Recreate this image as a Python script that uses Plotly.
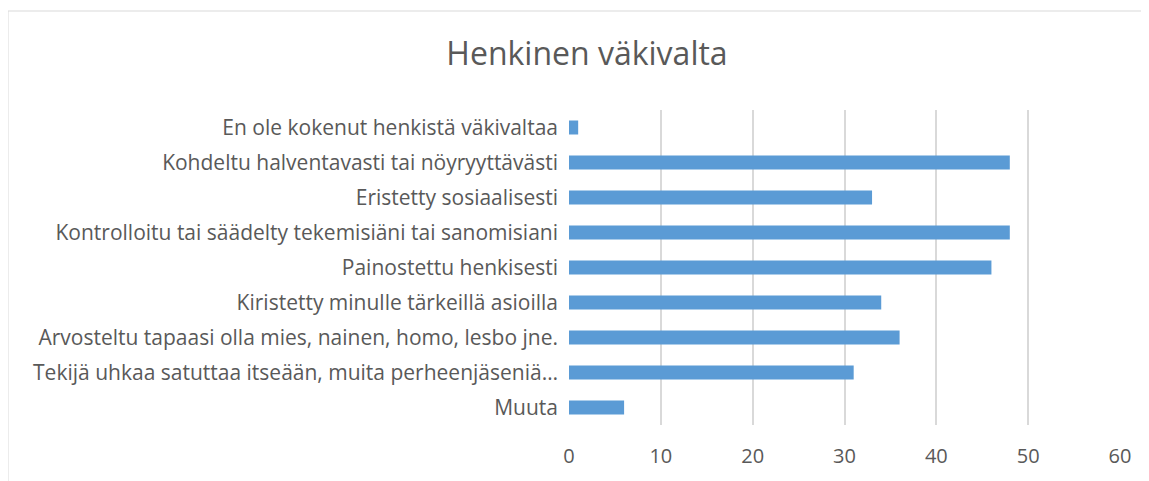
import plotly.graph_objects as go

categories = [
    "En ole kokenut henkistä väkivaltaa",
    "Kohdeltu halventavasti tai nöyryyttävästi",
    "Eristetty sosiaalisesti",
    "Kontrolloitu tai säädelty tekemisiäni tai sanomisiani",
    "Painostettu henkisesti",
    "Kiristetty minulle tärkeillä asioilla",
    "Arvosteltu tapaasi olla mies, nainen, homo, lesbo jne.",
    "Tekijä uhkaa satuttaa itseään, muita perheenjäseniä…",
    "Muuta",
]
values = [1, 48, 33, 48, 46, 34, 36, 31, 6]
x_ticks = [0, 10, 20, 30, 40, 50, 60]
title_text = "Henkinen väkivalta"

TEXT = "#595959"
FONT = "Open Sans"

# page body has an 8px margin; figure is sized/offset to compensate
W, H = 1141, 473
L, R, T, B = 561, 29, 102, 56
PW, PH = W - L - R, H - T - B

fig = go.Figure(
    go.Bar(
        x=values,
        y=categories,
        orientation="h",
        marker=dict(color="#5B9BD5", line=dict(width=0)),
    )
)

fig.update_layout(
    width=W,
    height=H,
    margin=dict(l=L, r=R, t=T, b=B),
    paper_bgcolor="white",
    plot_bgcolor="white",
    bargap=0.6,
    showlegend=False,
    font=dict(family=FONT, color=TEXT, size=20),
    title=dict(
        text=title_text,
        x=579 / W,
        xanchor="center",
        xref="container",
        y=1 - 46 / H,
        yanchor="middle",
        yref="container",
        font=dict(family=FONT, size=32, color=TEXT),
    ),
    xaxis=dict(
        range=[0, 60],
        tickvals=x_ticks,
        showgrid=True,
        gridcolor="#D9D9D9",
        gridwidth=2,
        zeroline=False,
        showline=False,
        ticks="",
        ticklabelstandoff=17,
        tickfont=dict(size=20, color=TEXT, family=FONT),
        fixedrange=True,
    ),
    yaxis=dict(
        categoryorder="array",
        categoryarray=categories,
        autorange="reversed",
        showgrid=False,
        zeroline=False,
        showline=False,
        ticks="",
        ticklabelstandoff=10,
        tickfont=dict(size=21, color=TEXT, family=FONT),
        fixedrange=True,
    ),
)

fig.add_shape(
    type="rect",
    xref="paper", yref="paper",
    x0=-L / PW,
    x1=1.2,
    y0=-0.5,
    y1=1 + (T - 3) / PH,
    line=dict(color="#D9D9D9", width=1),
    fillcolor="rgba(0,0,0,0)",
    layer="below",
)

fig.write_html("out.html")
